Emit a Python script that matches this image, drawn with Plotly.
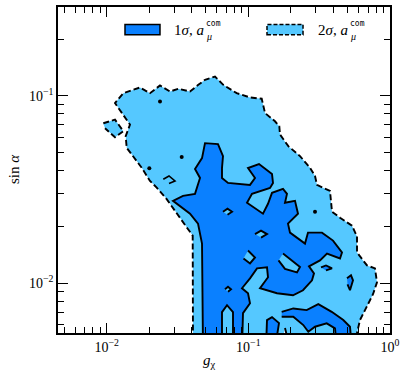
import numpy as np
import plotly.graph_objects as go

# ---------------- data (log10 units of g_chi and sin(alpha)) ----------------
# 2 sigma region, main outline
sig2_main_lg = [-1.3906, -1.3927, -1.4350, -1.5176, -1.5762, -1.6468, -1.6941, -1.7527, -1.8586, -1.8656,
                -1.8353, -1.9411, -1.8825, -1.7647, -1.6941, -1.6235, -1.5529, -1.4943, -1.4117, -1.3531,
                -1.3059, -1.2353, -1.1767, -1.0821, -0.9882, -0.9056, -0.8823, -0.8118, -0.7814, -0.7765,
                -0.7179, -0.6353, -0.5647, -0.5294, -0.5153, -0.4235, -0.4094, -0.3529, -0.2682, -0.2329,
                -0.2329, -0.1624, -0.1059, -0.0918, -0.1200, -0.1765, -0.2118, -0.2329, -0.2400]
sig2_main_ls = [-2.35, -1.7468, -1.7028, -1.6141, -1.5520, -1.4904, -1.4549, -1.3843, -1.2781, -1.2160,
                -1.1539, -1.0393, -0.9862, -0.9559, -0.9862, -0.9453, -0.9772, -0.9628, -0.9772, -0.9416,
                -0.9151, -0.8976, -0.9416, -0.9862, -1.0090, -1.0159, -1.0924, -1.1364, -1.1629, -1.2070,
                -1.2691, -1.3222, -1.3843, -1.4283, -1.4761, -1.5080, -1.6194, -1.6513, -1.6937, -1.7521,
                -1.8370, -1.9061, -1.9220, -1.9963, -2.0600, -2.1449, -2.1980, -2.2670, -2.35]
# 2 sigma small island (upper left)
sig2_isl_lg = [-2.0237, -1.9411, -1.8825, -1.9411, -2.0117]
sig2_isl_ls = [-1.1470, -1.1274, -1.1895, -1.2213, -1.1736]
# 2 sigma tiny loop
sig2_loop_lg = [-1.6002, -1.5600, -1.5176, -1.5600]
sig2_loop_ls = [-1.4459, -1.4283, -1.4549, -1.4682]
# 2 sigma hole at bottom
sig2_hole_lg = [-0.7412, -0.7059, -0.7694]
sig2_hole_ls = [-2.2404, -2.35, -2.35]
# tiny isolated contour points
dots_lg = [-1.6235, -1.4703, -1.6990, -0.5294]
dots_ls = [-1.0302, -1.3275, -1.3875, -1.6194]

# 1 sigma region, main outline
sig1_main_lg = [-1.3200, -1.3270, -1.3553, -1.4117, -1.5317, -1.4612, -1.3764, -1.3411, -1.3764, -1.3270,
                -1.3059, -1.2141, -1.1788, -1.1859, -1.1859, -1.1435, -0.9882, -0.9529, -1.0023, -0.9247,
                -0.8329, -0.8259, -0.8470, -0.9741, -1.0094, -0.8965, -0.8612, -0.8329, -0.7553, -0.7271,
                -0.7412, -0.6706, -0.6494, -0.7200, -0.7059, -0.6000, -0.5788, -0.4800, -0.4023, -0.3388,
                -0.3529, -0.4447, -0.4941, -0.5718, -0.5365, -0.5506, -0.6141, -0.6847, -0.7976, -0.9176,
                -0.8612, -0.8682, -0.9388, -0.9882, -1.0447, -1.0023, -0.9882, -1.0376, -1.0447, -1.1082,
                -1.1082, -1.1506, -1.1859, -1.1859]
sig1_main_ls = [-2.35, -1.7893, -1.6831, -1.6300, -1.5610, -1.5345, -1.5239, -1.4390, -1.3912, -1.3328,
                -1.2532, -1.2585, -1.3222, -1.3859, -1.4390, -1.4655, -1.4761, -1.4390, -1.3859, -1.3646,
                -1.4177, -1.4655, -1.4920, -1.5239, -1.5716, -1.6300, -1.5769, -1.5186, -1.4973, -1.5239,
                -1.5716, -1.5610, -1.6300, -1.6831, -1.7309, -1.7893, -1.7309, -1.7309, -1.7734, -1.8370,
                -1.8689, -1.8424, -1.8795, -1.9113, -1.9485, -1.9857, -2.0387, -2.0653, -2.0547, -2.0281,
                -1.9697, -1.9167, -1.9220, -1.9751, -2.0281, -2.0547, -2.1078, -2.1608, -2.35, -2.35,
                -2.1555, -2.1184, -2.1555, -2.35]
# holes inside the 1 sigma region
hole_b_lg = [-1.1788, -1.1470, -1.1153, -1.1470]
hole_b_ls = [-1.6194, -1.6035, -1.6194, -1.6353]
hole_c_lg = [-0.9529, -0.9106, -0.8682, -0.9106]
hole_c_ls = [-1.7389, -1.7203, -1.7389, -1.7574]
hole_d_lg = [-1.0023, -0.9529, -0.9882, -1.0341]
hole_d_ls = [-1.8264, -1.8636, -1.8954, -1.8689]
hole_e_lg = [-0.7553, -0.6353, -0.6565, -0.7412, -0.7870]
hole_e_ls = [-1.8424, -1.9140, -1.9432, -1.9246, -1.8795]
hole_f_lg = [-1.1647, -1.1435, -1.1223, -1.1435]
hole_f_ls = [-2.0334, -2.0202, -2.0334, -2.0467]
# separate 1 sigma islands
isl_g_lg = [-0.4870, -0.4518, -0.4094, -0.4518]
isl_g_ls = [-1.9167, -1.9061, -1.9220, -1.9326]
isl_h_lg = [-0.3035, -0.2753, -0.2612, -0.2824, -0.3000]
isl_h_ls = [-1.9751, -1.9591, -1.9857, -2.0387, -2.0069]
isl_i_lg = [-0.8753, -0.8682, -0.8329, -0.7835, -0.8118]
isl_i_ls = [-2.35, -2.1980, -2.1821, -2.2139, -2.35]
isl_j_lg = [-0.7645, -0.6826, -0.5880, -0.5061, -0.4115, -0.3296, -0.2824, -0.2682, -0.3741, -0.3882,
            -0.4468, -0.5294, -0.5767, -0.6120, -0.6826, -0.7645]
isl_j_ls = [-2.1539, -2.1359, -2.1449, -2.1130, -2.1539, -2.1980, -2.2335, -2.35, -2.35, -2.2420,
            -2.2155, -2.2335, -2.2601, -2.2245, -2.1805, -2.1805]

x_tickvals = [0.01, 0.1, 1.0]
x_ticktext = ["10<sup>−2</sup>", "10<sup>−1</sup>", "10<sup>0</sup>"]
y_tickvals = [0.01, 0.1]
y_ticktext = ["10<sup>−2</sup>", "10<sup>−1</sup>"]
x_minor = [m * 10.0 ** e for e in (-3, -2, -1) for m in range(2, 10)]
y_minor = [m * 10.0 ** e for e in (-3, -2, -1) for m in range(2, 10)]

DARK = "#0A80FF"
LIGHT = "#55C8FF"
FONT = "Liberation Serif"


def poly(lg, ls, fill, dash="solid", width=1.9):
    return go.Scatter(x=10 ** np.array(lg), y=10 ** np.array(ls), fill="toself", fillcolor=fill,
                      mode="lines", line=dict(color="black", width=width, dash=dash),
                      hoverinfo="skip", showlegend=False)


DASH = "6px,3px"
fig = go.Figure()
fig.add_trace(poly(sig2_main_lg, sig2_main_ls, LIGHT, DASH))
fig.add_trace(poly(sig2_isl_lg, sig2_isl_ls, LIGHT, DASH))
fig.add_trace(poly(sig2_loop_lg, sig2_loop_ls, LIGHT, "solid", 1.6))
fig.add_trace(poly(sig2_hole_lg, sig2_hole_ls, "white", DASH))
fig.add_trace(poly(sig1_main_lg, sig1_main_ls, DARK))
for lg, ls in [(hole_b_lg, hole_b_ls), (hole_c_lg, hole_c_ls), (hole_d_lg, hole_d_ls),
               (hole_e_lg, hole_e_ls), (hole_f_lg, hole_f_ls)]:
    fig.add_trace(poly(lg, ls, LIGHT))
for lg, ls in [(isl_g_lg, isl_g_ls), (isl_h_lg, isl_h_ls), (isl_i_lg, isl_i_ls), (isl_j_lg, isl_j_ls)]:
    fig.add_trace(poly(lg, ls, DARK))
fig.add_trace(go.Scatter(x=10 ** np.array(dots_lg), y=10 ** np.array(dots_ls), mode="markers",
                         marker=dict(color="black", size=4), hoverinfo="skip", showlegend=False))

axis_common = dict(type="log", showline=True, linecolor="black", linewidth=1.5, mirror="allticks",
                   ticks="inside", ticklen=10, tickwidth=1, tickcolor="black", showgrid=False,
                   zeroline=False, tickfont=dict(family=FONT, size=14, color="black"))
fig.update_xaxes(range=[-2.3435, 0.0], tickmode="array", tickvals=x_tickvals, ticktext=x_ticktext,
                 minor=dict(tickmode="array", tickvals=x_minor, ticks="inside", ticklen=6, tickwidth=1,
                            tickcolor="black", showgrid=False), **axis_common)
fig.update_yaxes(range=[-2.267, -0.526], tickmode="array", tickvals=y_tickvals, ticktext=y_ticktext,
                 minor=dict(tickmode="array", tickvals=y_minor, ticks="inside", ticklen=6, tickwidth=1,
                            tickcolor="black", showgrid=False), **axis_common)

# legend drawn manually
shapes = [
    dict(type="rect", xref="paper", yref="paper", x0=0.2018, x1=0.3072, y0=0.9146, y1=0.9466,
         fillcolor=DARK, line=dict(color="black", width=1.5)),
    dict(type="rect", xref="paper", yref="paper", x0=0.6295, x1=0.7380, y0=0.9146, y1=0.9466,
         fillcolor=LIGHT, line=dict(color="black", width=1.5, dash="4px,2px")),
]
ann_font = dict(family=FONT, size=15, color="black")
sub_font = dict(family=FONT, size=10, color="black")
sup_font = dict(family="DejaVu Sans Mono", size=8, color="black")
annotations = [
    dict(text="1<i>σ</i>, <i>a</i>", x=0.3434, y=0.9299, xref="paper", yref="paper",
         xanchor="left", yanchor="middle", showarrow=False, font=ann_font),
    dict(text="<i>μ</i>", x=0.4400, y=0.908, xref="paper", yref="paper",
         xanchor="left", yanchor="middle", showarrow=False, font=sub_font),
    dict(text="com", x=0.4400, y=0.9480, xref="paper", yref="paper",
         xanchor="left", yanchor="middle", showarrow=False, font=sup_font),
    dict(text="2<i>σ</i>, <i>a</i>", x=0.7771, y=0.9299, xref="paper", yref="paper",
         xanchor="left", yanchor="middle", showarrow=False, font=ann_font),
    dict(text="<i>μ</i>", x=0.8737, y=0.908, xref="paper", yref="paper",
         xanchor="left", yanchor="middle", showarrow=False, font=sub_font),
    dict(text="com", x=0.8737, y=0.9480, xref="paper", yref="paper",
         xanchor="left", yanchor="middle", showarrow=False, font=sup_font),
    dict(text="<i>g</i><sub>χ</sub>", x=0.4578, y=-0.085, xref="paper", yref="paper",
         xanchor="center", yanchor="middle", showarrow=False, font=dict(family=FONT, size=15, color="black")),
    dict(text="sin <i>α</i>", x=-0.1325, y=0.503, xref="paper", yref="paper", textangle=-90,
         xanchor="center", yanchor="middle", showarrow=False, font=dict(family=FONT, size=15, color="black")),
]

fig.update_layout(width=407, height=377, margin=dict(l=58, r=17, t=5, b=44),
                  paper_bgcolor="white", plot_bgcolor="white", showlegend=False,
                  shapes=shapes, annotations=annotations)

fig.write_html("out.html", config={"displayModeBar": False},
               post_script="document.body.style.margin='0px';document.body.style.padding='0px';"
                           "document.documentElement.style.overflow='hidden';")
